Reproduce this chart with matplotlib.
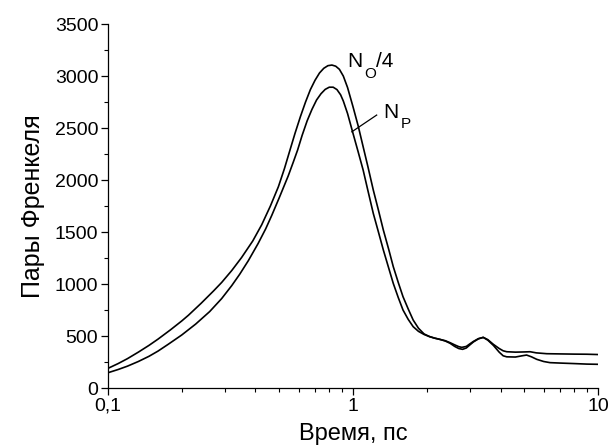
import matplotlib.pyplot as plt
from matplotlib.ticker import MultipleLocator, FixedLocator, FixedFormatter, LogLocator, NullFormatter

plt.rcParams['font.family'] = ['Liberation Sans', 'DejaVu Sans']

# N_O/4 curve
t_o = [0.10, 0.11, 0.12, 0.133, 0.147, 0.16, 0.18, 0.20, 0.213, 0.24, 0.27,
       0.291, 0.32, 0.351, 0.39, 0.424, 0.46, 0.496, 0.525, 0.553, 0.58, 0.61,
       0.64, 0.67, 0.70, 0.73, 0.76, 0.79, 0.82, 0.85, 0.88, 0.913, 0.95, 1.0,
       1.05, 1.1, 1.15, 1.21, 1.27, 1.33, 1.40, 1.46, 1.53, 1.6, 1.68, 1.76,
       1.85, 1.95, 2.05, 2.15, 2.26, 2.38, 2.49, 2.6, 2.7, 2.78, 2.9, 3.0, 3.1,
       3.25, 3.4, 3.55, 3.74, 3.95, 4.1, 4.24, 4.6, 5.0, 5.28, 5.6, 6.18, 7.0,
       8.0, 9.0, 10.0]
n_o = [189, 235, 282, 345, 410, 470, 560, 645, 700, 815, 935,
       1015, 1130, 1255, 1415, 1570, 1750, 1936, 2110, 2288, 2450, 2610,
       2750, 2870, 2960, 3030, 3075, 3100, 3106, 3095, 3065, 3000, 2890, 2705,
       2520, 2320, 2130, 1904, 1710, 1519, 1330, 1167, 1015, 878, 760, 654,
       575, 520, 495, 480, 468, 455, 436, 415, 398, 391, 400, 425, 448,
       475, 487, 465, 420, 380, 358, 349, 345, 347, 349, 338, 330, 328,
       326, 325, 322]

# N_P curve
t_p = [0.10, 0.11, 0.12, 0.133, 0.147, 0.16, 0.176, 0.20, 0.228, 0.26, 0.291,
       0.32, 0.345, 0.374, 0.41, 0.44, 0.466, 0.50, 0.544, 0.57, 0.594, 0.62,
       0.65, 0.68, 0.71, 0.74, 0.77, 0.80, 0.83, 0.86, 0.89, 0.913, 0.95, 1.0,
       1.05, 1.1, 1.15, 1.21, 1.27, 1.33, 1.40, 1.46, 1.53, 1.6, 1.68, 1.76,
       1.85, 1.95, 2.05, 2.15, 2.26, 2.38, 2.49, 2.6, 2.7, 2.8, 2.9, 3.0, 3.1,
       3.25, 3.4, 3.55, 3.74, 3.95, 4.1, 4.24, 4.6, 4.9, 5.11, 5.35, 5.62, 6.0,
       6.37, 7.0, 8.0, 9.0, 10.0]
n_p = [147, 178, 210, 255, 305, 355, 420, 510, 615, 735, 860,
       985, 1095, 1225, 1390, 1530, 1660, 1830, 2040, 2170, 2288, 2430,
       2570, 2680, 2770, 2830, 2872, 2893, 2893, 2870, 2820, 2760, 2640, 2449,
       2270, 2096, 1900, 1679, 1500, 1327, 1150, 1006, 870, 750, 660, 590,
       545, 515, 495, 480, 468, 452, 430, 400, 380, 372, 385, 415, 443,
       473, 487, 460, 410, 345, 310, 300, 298, 310, 317, 300, 276, 255,
       244, 240, 235, 230, 228]

x_ticks = [0.1, 1, 10]
x_tick_labels = ['0,1', '1', '10']

fig = plt.figure(figsize=(6.09, 4.46), dpi=100)
ax = fig.add_axes([0.1773, 0.130, 0.8047, 0.816])

ax.plot(t_o, n_o, color='black', lw=1.2)
ax.plot(t_p, n_p, color='black', lw=1.2)

ax.set_xscale('log')
ax.set_xlim(0.1, 10)
ax.set_ylim(0, 3500)

ax.xaxis.set_major_locator(FixedLocator(x_ticks))
ax.xaxis.set_major_formatter(FixedFormatter(x_tick_labels))
ax.xaxis.set_minor_locator(LogLocator(base=10, subs=range(2, 10)))
ax.xaxis.set_minor_formatter(NullFormatter())
ax.yaxis.set_major_locator(MultipleLocator(500))
ax.yaxis.set_minor_locator(MultipleLocator(250))

for side in ['top', 'right']:
    ax.spines[side].set_visible(False)
for side in ['left', 'bottom']:
    ax.spines[side].set_linewidth(0.9)

ax.tick_params(which='major', direction='out', length=5, width=0.9, labelsize=14, pad=2)
ax.tick_params(which='minor', direction='out', length=3, width=0.8)

ax.set_xlabel('Время, пс', fontsize=17, labelpad=6)
ax.set_ylabel('Пары Френкеля', fontsize=18, labelpad=7)

# curve labels: letter, lowered subscript, rest
def curve_label(x, y, sub, rest, sub_dx, sub_dy, rest_dx):
    ax.annotate('N', (x, y), fontsize=15, va='baseline')
    ax.annotate(sub, (x, y), xytext=(sub_dx, sub_dy), textcoords='offset points',
                fontsize=11, va='baseline')
    if rest:
        ax.annotate(rest, (x, y), xytext=(rest_dx, 0), textcoords='offset points',
                    fontsize=15, va='baseline')

curve_label(0.945, 3089, 'O', '/4', 12.5, -8, 21)
curve_label(1.326, 2596, 'P', '', 13, -7, 0)
ax.plot([0.989, 1.249], [2464, 2625], color='black', lw=0.9)

fig.savefig('out.png', dpi=100)
